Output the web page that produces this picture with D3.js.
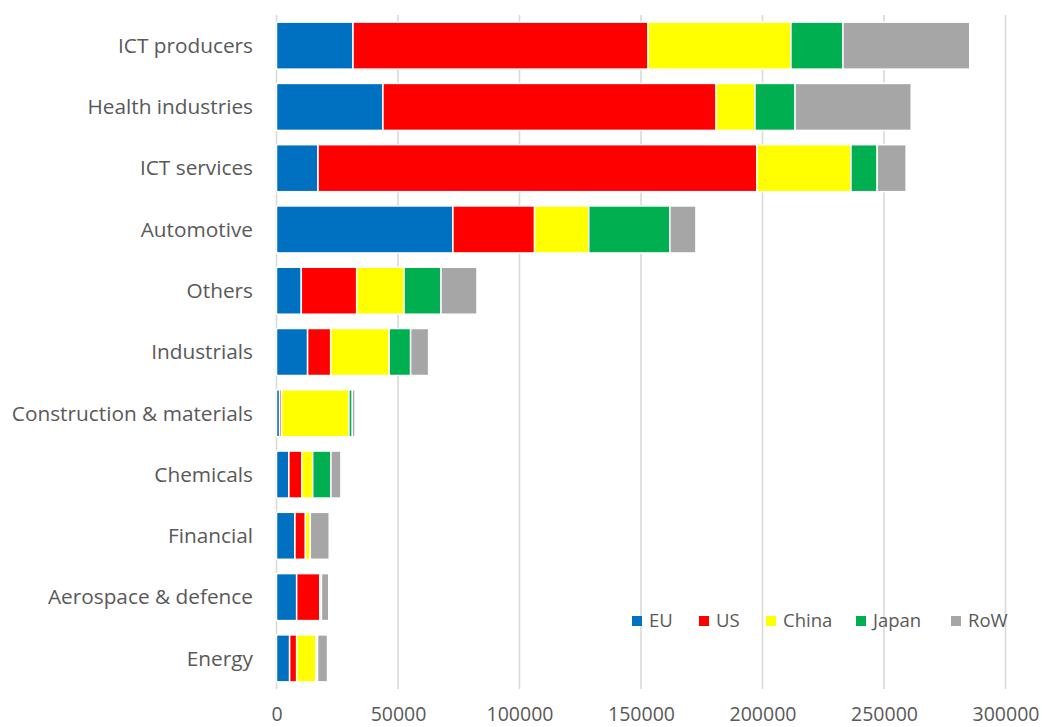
<!DOCTYPE html>
<html>
<head>
<meta charset="utf-8">
<script src="https://cdn.jsdelivr.net/npm/d3@7"></script>
<style>
  html, body { margin: 0; padding: 0; background: #fff; }
  svg { display: block; }
  text { font-family: "Open Sans", "Noto Sans", sans-serif; fill: #595959; }
</style>
</head>
<body>
<div id="chart"></div>
<script>
// Sectors, top to bottom
const sectors = [
  "ICT producers", "Health industries", "ICT services", "Automotive", "Others",
  "Industrials", "Construction & materials", "Chemicals", "Financial",
  "Aerospace & defence", "Energy"
];

// Region series (same order as sectors)
const seriesNames = ["EU", "US", "China", "Japan", "RoW"];
const euValues    = [31500, 43800, 17100, 72600, 10200, 12800, 1300, 5100, 7600, 8300, 5400];
const usValues    = [121400, 137100, 180600, 33600, 22800, 9500, 800, 5300, 4300, 9500, 2900];
const chinaValues = [58800, 16000, 38700, 22300, 19500, 24100, 27700, 4500, 2000, 300, 8000];
const japanValues = [21400, 16500, 10800, 33400, 15200, 8800, 1400, 7500, 0, 400, 600];
const rowValues   = [52200, 47800, 11900, 10700, 14800, 7400, 1100, 4100, 7800, 3000, 4100];

const seriesColors = ["#0070c0", "#ff0000", "#ffff00", "#00b050", "#a6a6a6"];
const xTicks = [0, 50000, 100000, 150000, 200000, 250000, 300000];

const W = 1042, H = 727;
const plot = { left: 276.5, right: 1005.5, top: 15, bottom: 689 };

const rows = sectors.map((s, i) => ({
  sector: s,
  EU: euValues[i], US: usValues[i], China: chinaValues[i],
  Japan: japanValues[i], RoW: rowValues[i]
}));

const svg = d3.select("#chart").append("svg")
  .attr("width", W).attr("height", H);

const x = d3.scaleLinear().domain([0, 300000]).range([plot.left, plot.right]);
const y = d3.scaleBand().domain(sectors).range([plot.top, plot.bottom])
  .paddingInner(0.233).paddingOuter(0.1165);
const color = d3.scaleOrdinal().domain(seriesNames).range(seriesColors);

// Vertical gridlines
svg.append("g").selectAll("line").data(xTicks).join("line")
  .attr("x1", d => x(d)).attr("x2", d => x(d))
  .attr("y1", plot.top).attr("y2", plot.bottom)
  .attr("stroke", "#d9d9d9").attr("stroke-width", 1.6);

// Stacked bars
const stacked = d3.stack().keys(seriesNames)(rows);
svg.append("g").selectAll("g").data(stacked).join("g")
  .attr("fill", d => color(d.key))
  .selectAll("rect").data(d => d).join("rect")
  .attr("x", d => x(d[0]))
  .attr("y", d => y(d.data.sector))
  .attr("width", d => Math.max(0, x(d[1]) - x(d[0])))
  .attr("height", y.bandwidth())
  .attr("stroke", "#fff").attr("stroke-width", 1.5);

// Category labels
svg.append("g").selectAll("text").data(sectors).join("text")
  .attr("x", 253)
  .attr("y", d => y(d) + y.bandwidth() / 2)
  .attr("dy", "0.35em")
  .attr("text-anchor", "end")
  .style("font-size", "20.8px")
  .text(d => d);

// Bottom axis tick labels
const xAxis = d3.axisBottom(x).tickValues(xTicks).tickFormat(d3.format("d")).tickSize(0).tickPadding(0);
const ax = svg.append("g").attr("transform", `translate(0,${plot.bottom})`).call(xAxis);
ax.select(".domain").remove();
ax.selectAll("text")
  .attr("y", 25).attr("dy", "0.35em")
  .style("font-size", "19.5px")
  .style("font-family", "'Open Sans', sans-serif")
  .attr("fill", "#595959");

// Legend
const legendX = [632, 699, 766, 856, 951];
const legend = svg.append("g").selectAll("g").data(seriesNames).join("g")
  .attr("transform", (d, i) => `translate(${legendX[i]},621)`);
legend.append("rect")
  .attr("x", 0).attr("y", -5).attr("width", 10).attr("height", 10)
  .attr("fill", d => color(d));
legend.append("text")
  .attr("x", 17).attr("y", 0).attr("dy", "0.35em")
  .style("font-size", "18.5px")
  .text(d => d);
</script>
</body>
</html>
